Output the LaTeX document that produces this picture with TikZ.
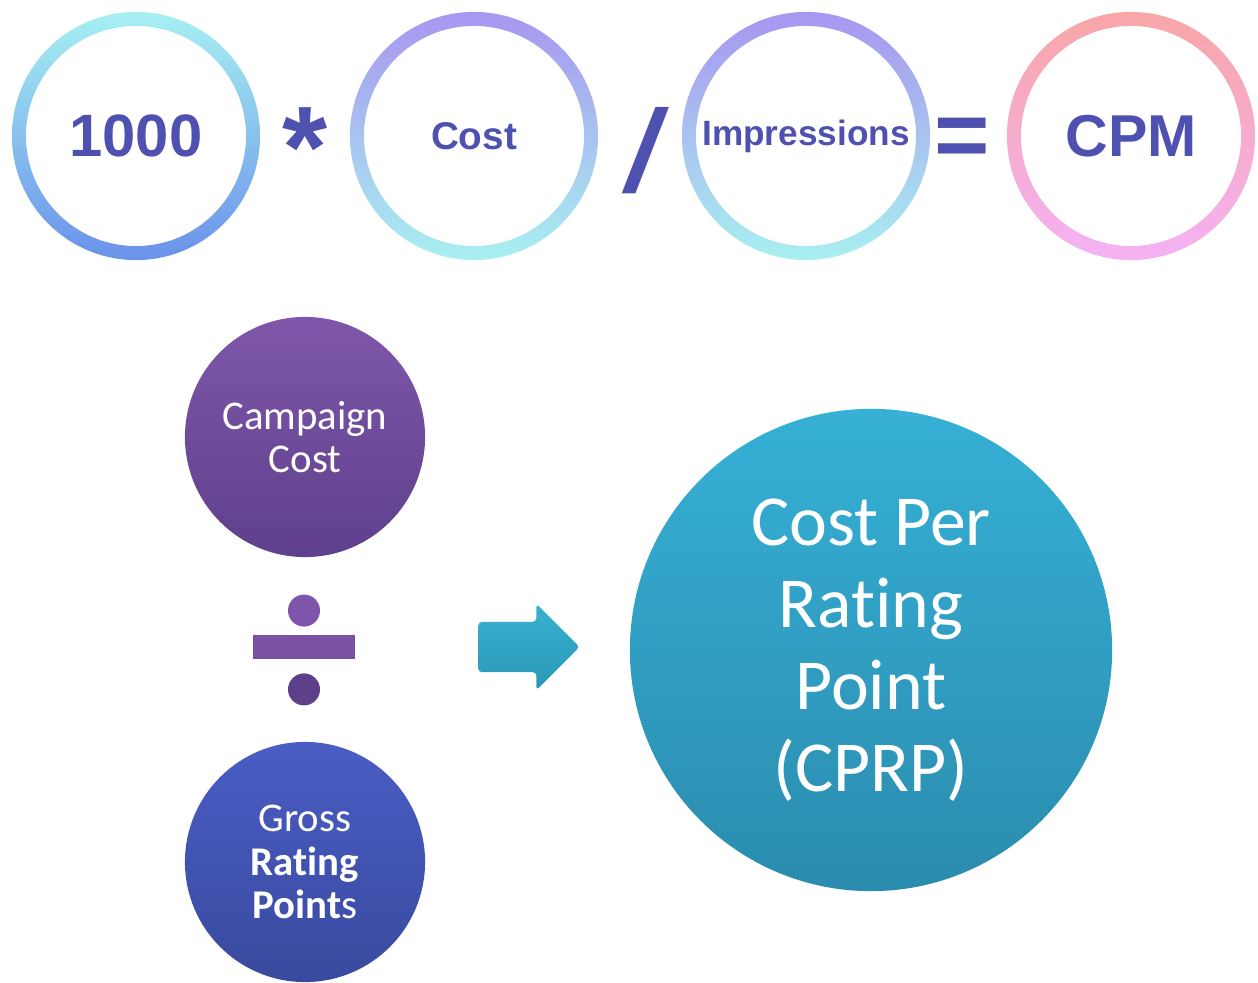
\documentclass[tikz,border=0pt]{standalone}
\usepackage{fontspec}
\usepackage{xcolor}
\newfontfamily\headfont{Liberation Sans}
\newfontfamily\slashfont{Liberation Sans}[FakeSlant=0.2]
\newfontfamily\bodyfont{Carlito}
\definecolor{ink}{HTML}{4F51B0}
\definecolor{ringcyan}{HTML}{A6F0F2}
\definecolor{ringblue}{HTML}{6A92EA}
\definecolor{ringviolet}{HTML}{A896F0}
\definecolor{ringaqua}{HTML}{A8F0F0}
\definecolor{ringsalmon}{HTML}{F8A6A6}
\definecolor{ringpink}{HTML}{F4B2F4}
\definecolor{campaigntop}{HTML}{7F57AA}
\definecolor{campaignbot}{HTML}{5F408C}
\definecolor{grosstop}{HTML}{4A5DC4}
\definecolor{grossbot}{HTML}{394A9E}
\definecolor{dividetop}{HTML}{7E55AA}
\definecolor{dividemid}{HTML}{7A52A4}
\definecolor{dividebot}{HTML}{5D3F8A}
\definecolor{arrowtop}{HTML}{38B2D0}
\definecolor{arrowbot}{HTML}{2A98B6}
\definecolor{cprptop}{HTML}{36B0D6}
\definecolor{cprpbot}{HTML}{2A8CAE}
\usetikzlibrary{shapes,positioning}
\tikzstyle{ring} = [circle, inner sep=0pt, text=ink, minimum size=2.2cm]
\tikzstyle{op} = [inner sep=0pt, text=ink]
\tikzstyle{ball} = [circle, inner sep=0pt, text=white, align=center]
\tikzstyle{dot} = [circle, inner sep=0pt, minimum size=0.32cm]
% keeps Carlito from joining t and i
\newcommand{\Rating}{Rat\kern0pt ing}

\begin{document}
\begin{tikzpicture}[x=0.01cm, y=-0.01cm]
    \useasboundingbox (0,0) rectangle (1258,983);

    % CPM formula
    \node [ring, font=\headfont\bfseries\fontsize{17}{20}\selectfont] (thousand) at (136,136) {1000};
    \node [ring, font=\headfont\bfseries\fontsize{11}{13}\selectfont] (cost) at (474,136) {Cost};
    \node [ring, font=\headfont\bfseries\fontsize{10}{12}\selectfont] (impressions) at (806,136) {Impressions};
    \node [ring, font=\headfont\bfseries\fontsize{16.8}{20}\selectfont] (cpm) at (1131,136) {CPM};

    \shade[top color=ringcyan, bottom color=ringblue, even odd rule] (thousand.center) circle (1.24cm) (thousand.center) circle (1.10cm);
    \shade[top color=ringviolet, bottom color=ringaqua, even odd rule] (cost.center) circle (1.24cm) (cost.center) circle (1.10cm);
    \shade[top color=ringviolet, bottom color=ringaqua, even odd rule] (impressions.center) circle (1.24cm) (impressions.center) circle (1.10cm);
    \shade[top color=ringsalmon, bottom color=ringpink, even odd rule] (cpm.center) circle (1.24cm) (cpm.center) circle (1.10cm);

    \node [op, anchor=north, font=\headfont\bfseries\fontsize{33}{36}\selectfont] (times) at (305,107) {*};
    \node [op, anchor=north, font=\slashfont\bfseries\fontsize{33}{36}\selectfont] (over) at (638,107) {/};
    \node [op, anchor=north, font=\headfont\bfseries\fontsize{27}{30}\selectfont] (equals) at (962,117) {=};

    % CPRP
    \node [ball, minimum size=2.4cm, top color=campaigntop, bottom color=campaignbot, font=\bodyfont\fontsize{11.6}{12.3}\selectfont] (campaign) at (305,437) {Campaign\\Cost};
    \node [rectangle, fill=dividemid, minimum width=1.02cm, minimum height=0.24cm, inner sep=0pt] (divbar) at (304,647) {};
    \node [dot, fill=dividetop, above=0.07cm of divbar] (dottop) {};
    \node [dot, fill=dividebot, below=0.13cm of divbar] (dotbot) {};
    \node [ball, minimum size=2.4cm, top color=grosstop, bottom color=grossbot, font=\bodyfont\fontsize{11.6}{12.3}\selectfont] (gross) at (305,862) {Gross\\\textbf{\Rating}\\\textbf{Point}s};

    \node [single arrow, right=1.22cm of divbar, inner xsep=0pt, inner ysep=0.245cm, minimum height=1.01cm,
           single arrow head extend=0.18cm, single arrow tip angle=90, rounded corners=1pt,
           top color=arrowtop, bottom color=arrowbot] (arrow) {};

    \node [ball, minimum size=4.82cm, top color=cprptop, bottom color=cprpbot, font=\bodyfont\fontsize{20.4}{23.3}\selectfont] (cprp) at (871,650) {Cost Per\\\Rating\\Point\\(CPRP)};

\end{tikzpicture}
\end{document}
